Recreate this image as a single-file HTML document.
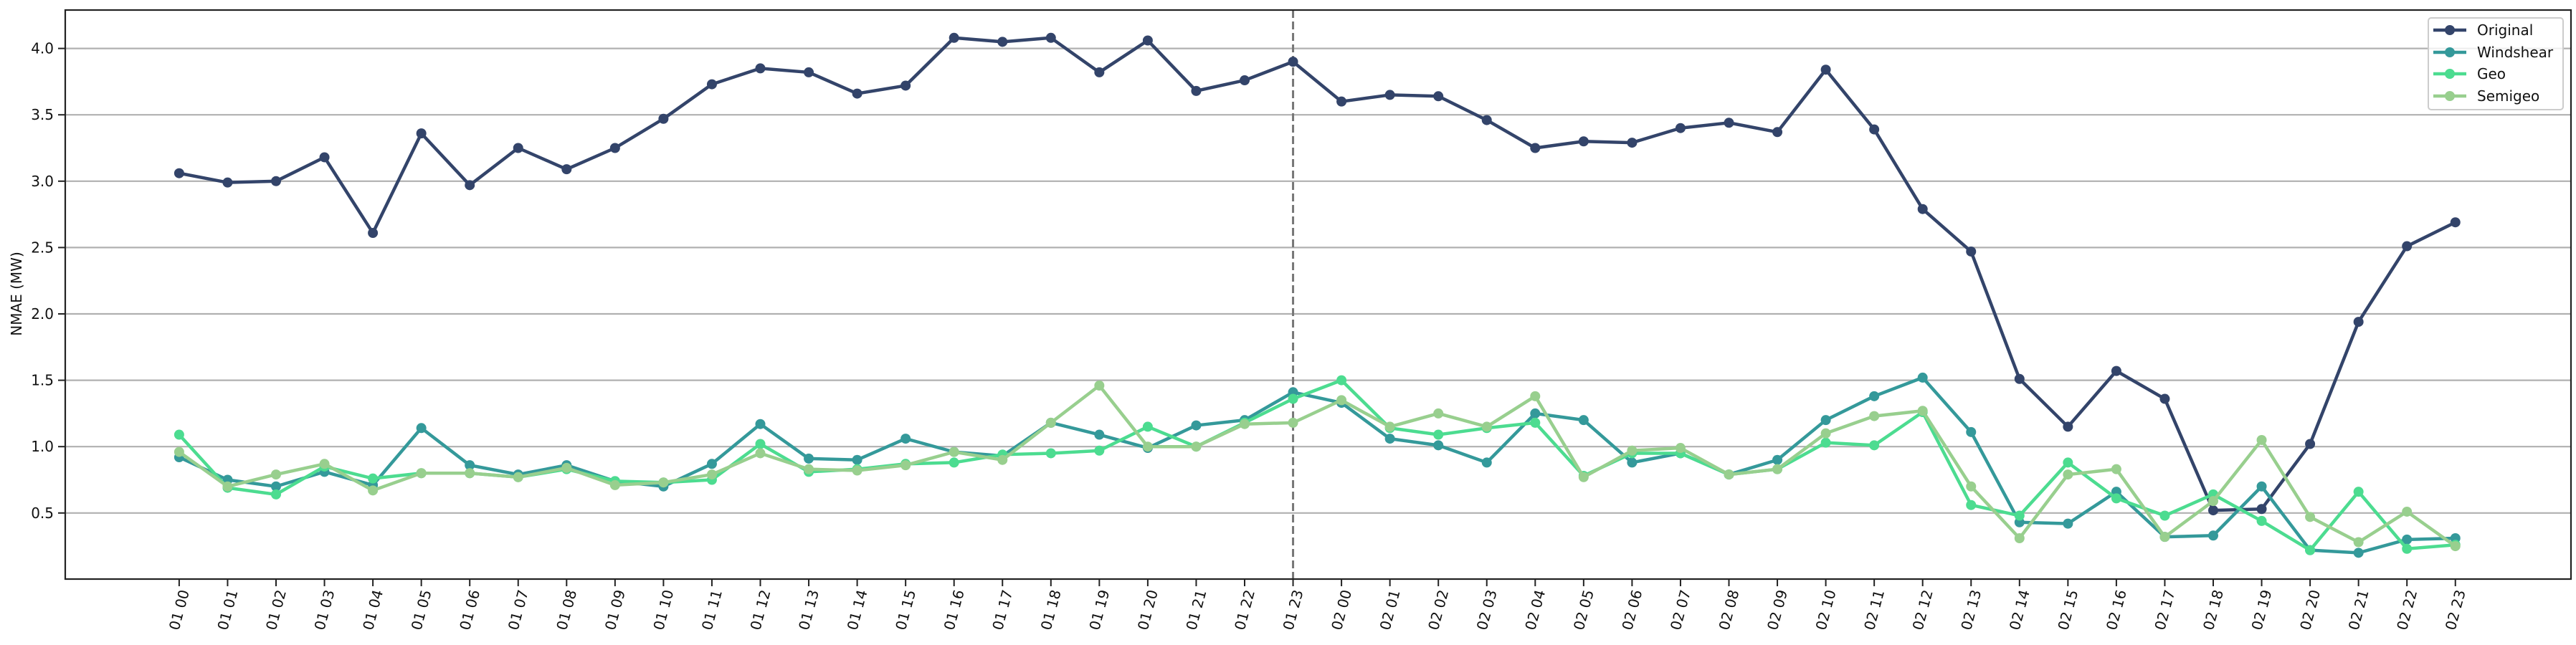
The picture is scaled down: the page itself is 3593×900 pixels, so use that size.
<!DOCTYPE html>
<html><head><meta charset="utf-8"><style>
html,body{margin:0;padding:0;background:#fff;}
svg{display:block;font-family:"DejaVu Sans","Liberation Sans",sans-serif;}
</style></head><body>
<svg id="chart" width="3593" height="900" viewBox="0 0 3593 900" xmlns="http://www.w3.org/2000/svg">
<rect x="0" y="0" width="3593" height="900" fill="#fff"/>
<g id="grid"></g>
<line x1="1803.6" y1="14" x2="1803.6" y2="808" stroke="#777" stroke-width="3" stroke-dasharray="11,5" id="vline"/>
<g id="series"></g>
<rect x="91" y="14" width="3495" height="794" fill="none" stroke="#222" stroke-width="2.2"/>
<g id="yticks"></g>
<g id="xticks"></g>
<text x="0" y="0" transform="translate(30,410) rotate(-90)" text-anchor="middle" font-size="20" fill="#111">NMAE (MW)</text>
<g id="legend">
<rect x="3387" y="25" width="188" height="128" rx="4" fill="#fff" fill-opacity="0.8" stroke="#ccc" stroke-width="2"/>
</g>
</svg>
<script>
const categories = ["01 00","01 01","01 02","01 03","01 04","01 05","01 06","01 07","01 08","01 09","01 10","01 11","01 12","01 13","01 14","01 15","01 16","01 17","01 18","01 19","01 20","01 21","01 22","01 23","02 00","02 01","02 02","02 03","02 04","02 05","02 06","02 07","02 08","02 09","02 10","02 11","02 12","02 13","02 14","02 15","02 16","02 17","02 18","02 19","02 20","02 21","02 22","02 23"];
const original = [3.06,2.99,3.00,3.18,2.61,3.36,2.97,3.25,3.09,3.25,3.47,3.73,3.85,3.82,3.66,3.72,4.08,4.05,4.08,3.82,4.06,3.68,3.76,3.90,3.60,3.65,3.64,3.46,3.25,3.30,3.29,3.40,3.44,3.37,3.84,3.39,2.79,2.47,1.51,1.15,1.57,1.36,0.52,0.53,1.02,1.94,2.51,2.69];
const windshear = [0.92,0.75,0.70,0.81,0.71,1.14,0.86,0.79,0.86,0.74,0.70,0.87,1.17,0.91,0.90,1.06,0.96,0.93,1.18,1.09,0.99,1.16,1.20,1.41,1.33,1.06,1.01,0.88,1.25,1.20,0.88,0.95,0.79,0.90,1.20,1.38,1.52,1.11,0.43,0.42,0.66,0.32,0.33,0.70,0.22,0.20,0.30,0.31];
const geo = [1.09,0.69,0.64,0.85,0.76,0.80,0.80,0.77,0.83,0.74,0.73,0.75,1.02,0.81,0.83,0.87,0.88,0.94,0.95,0.97,1.15,1.00,1.18,1.36,1.50,1.14,1.09,1.14,1.18,0.78,0.95,0.95,0.79,0.83,1.03,1.01,1.26,0.56,0.48,0.88,0.61,0.48,0.64,0.44,0.22,0.66,0.23,0.26];
const semigeo = [0.96,0.70,0.79,0.87,0.67,0.80,0.80,0.77,0.84,0.71,0.73,0.79,0.95,0.83,0.82,0.86,0.96,0.90,1.18,1.46,1.00,1.00,1.17,1.18,1.35,1.15,1.25,1.15,1.38,0.77,0.97,0.99,0.79,0.83,1.10,1.23,1.27,0.70,0.31,0.79,0.83,0.32,0.59,1.05,0.47,0.28,0.51,0.25];
const yTicks = [0.5,1.0,1.5,2.0,2.5,3.0,3.5,4.0];
const seriesNames = ["Original","Windshear","Geo","Semigeo"];
const splitIndex = 23;

const NS="http://www.w3.org/2000/svg";
const X0=249.9, DX=67.55, Y0=808.4, KY=185.2;
function xs(i){return X0+i*DX;}
function ys(v){return Y0-v*KY;}
function mk(tag,attrs,parent){const e=document.createElementNS(NS,tag);for(const k in attrs)e.setAttribute(k,attrs[k]);parent.appendChild(e);return e;}

const grid=document.getElementById('grid'), yt=document.getElementById('yticks'), xt=document.getElementById('xticks');
yTicks.forEach(v=>{
  const g=mk('line',{x1:91,x2:3586,y1:ys(v),y2:ys(v),stroke:'#b0b0b0','stroke-width':2.2},grid);
  
  
  const t=mk('line',{x1:81,x2:91,y1:ys(v),y2:ys(v),stroke:'#222','stroke-width':2},yt);
  
  
  const l=mk('text',{x:75,y:ys(v)+7,'text-anchor':'end','font-size':20,fill:'#111'},yt);
  l.textContent=v.toFixed(1);
  
  
});
categories.forEach((c,i)=>{
  const t=mk('line',{x1:xs(i),x2:xs(i),y1:808,y2:818,stroke:'#222','stroke-width':2},xt);
  
  
  const l=mk('text',{x:0,y:0,transform:`translate(${xs(i)},851) rotate(-75)`,'text-anchor':'middle','dominant-baseline':'central','font-size':20,fill:'#111'},xt);
  l.textContent=c;
  
  
});
const vl=document.getElementById('vline');
vl.setAttribute('x1',xs(splitIndex));vl.setAttribute('x2',xs(splitIndex));

const colors=['#33446a','#34999a','#4cdc90','#98cf8e'];
const data=[original,windshear,geo,semigeo];
const sg=document.getElementById('series');
data.forEach((arr,si)=>{
  const g=mk('g',{},sg);
  
  
  const pl=mk('polyline',{points:arr.map((v,i)=>xs(i)+','+ys(v)).join(' '),fill:'none',stroke:colors[si],'stroke-width':4.5,'stroke-linejoin':'round'},g);
  
  
  arr.forEach((v,i)=>{
    const c=mk('circle',{cx:xs(i),cy:ys(v),r:7,fill:colors[si]},g);
    
    
  });
});
const lg=document.getElementById('legend');
const rowsY=[42,73,103,134];
seriesNames.forEach((n,si)=>{
  const g=mk('g',{},lg);
  
  
  mk('line',{x1:3394,x2:3440,y1:rowsY[si],y2:rowsY[si],stroke:colors[si],'stroke-width':4.5},g);
  mk('circle',{cx:3417,cy:rowsY[si],r:7,fill:colors[si]},g);
  const t=mk('text',{x:3455,y:rowsY[si]+7,'font-size':20,fill:'#111'},g);
  t.textContent=n;
  
  
});
</script>
</body></html>
